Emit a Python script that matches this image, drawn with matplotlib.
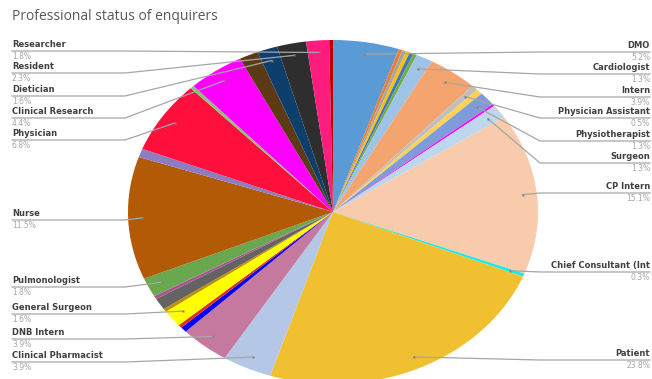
import matplotlib.pyplot as plt
import numpy as np

# slices clockwise from 12 o'clock; "" = slice without a visible label
labels = ["DMO", "", "", "", "", "", "Cardiologist", "Intern", "Physician Assistant", "",
          "Physiotherapist", "", "Surgeon", "CP Intern", "Chief Consultant (Int", "Patient",
          "Clinical Pharmacist", "DNB Intern", "", "", "General Surgeon", "", "", "",
          "Pulmonologist", "Nurse", "", "Physician", "", "Clinical Research", "",
          "Dietician", "Resident", "Researcher", ""]
shares = [5.2, 0.3, 0.3, 0.3, 0.3, 0.3, 1.3, 3.9, 0.5, 0.5,
          1.3, 0.2, 1.3, 15.1, 0.3, 23.8,
          3.9, 3.9, 0.5, 0.3, 1.6, 0.3, 1.1, 0.3,
          1.8, 11.5, 0.8, 6.8, 0.3, 4.4, 1.5,
          1.6, 2.3, 1.8, 0.3]
colors = ["#5B9BD5", "#ED7D31", "#A5A5A5", "#FFC000", "#4472C4", "#70AD47", "#9DC3E6", "#F4A46F",
          "#BFBFBF", "#FFD34F", "#7F9BDB", "#FF00FF", "#BDD7EE", "#F8CBAD", "#1CEAEA", "#F0C030",
          "#B4C7E7", "#C5799E", "#0000FF", "#E03010", "#FFFF00", "#C09000", "#636363", "#A9538F",
          "#6AA84F", "#B35A07", "#8E7CC3", "#FF0F3C", "#8BC37A", "#FF00FF", "#5C3A16",
          "#0E3F6C", "#2E2E2E", "#FF1C7F", "#C00000"]

# label layout (pixel y of the leader line, side)
label_pos = {
    "DMO": (52, "R"), "Cardiologist": (74, "R"), "Intern": (97, "R"),
    "Physician Assistant": (118, "R"), "Physiotherapist": (141, "R"), "Surgeon": (163, "R"),
    "CP Intern": (193, "R"), "Chief Consultant (Int": (272, "R"), "Patient": (360, "R"),
    "Researcher": (51, "L"), "Resident": (73, "L"), "Dietician": (96, "L"),
    "Clinical Research": (118, "L"), "Physician": (140, "L"), "Nurse": (220, "L"),
    "Pulmonologist": (287, "L"), "General Surgeon": (314, "L"), "DNB Intern": (339, "L"),
    "Clinical Pharmacist": (362, "L"),
}

W, H = 652, 379
fig = plt.figure(figsize=(W / 100, H / 100), dpi=100)

# pie axes: ellipse centred at (333, 212) px, radii 205 x 172
cx, cy, rx, ry = 333, 212, 205, 172
ax = fig.add_axes([(cx - rx) / W, 1 - (cy + ry) / H, 2 * rx / W, 2 * ry / H])
wedges, _ = ax.pie(shares, colors=colors, startangle=90, counterclock=False, radius=1,
                   wedgeprops=dict(linewidth=0))
ax.set_aspect("auto")
ax.set_xlim(-1, 1)
ax.set_ylim(-1, 1)
ax.axis("off")
for w in wedges:
    w.set_clip_on(False)

# overlay in pixel coordinates for labels and leaders
ov = fig.add_axes([0, 0, 1, 1], zorder=5)
ov.set_xlim(0, W)
ov.set_ylim(H, 0)
ov.axis("off")

ov.text(12, 17, "Professional status of enquirers", fontsize=10, color="#595959",
        va="center", ha="left", family="Open Sans")

to_px = ax.transData + ov.transData.inverted()
line_c = "#A6A6A6"
for w, name, val in zip(wedges, labels, shares):
    if not name:
        continue
    th = np.deg2rad((w.theta1 + w.theta2) / 2)
    dx, dy = to_px.transform((0.93 * np.cos(th), 0.93 * np.sin(th)))
    ly, side = label_pos[name]
    if side == "R":
        ex = max(540, dx)
        ov.plot([dx, ex, 650], [dy, ly, ly], color=line_c, lw=0.9)
        tx, ha = 650, "right"
    else:
        ex = min(125, dx)
        ov.plot([dx, ex, 12], [dy, ly, ly], color=line_c, lw=0.9)
        tx, ha = 12, "left"
    ov.plot(dx, dy, "s", ms=1.8, color="#808080", mec="none")
    ov.text(tx, ly - 2, name, fontsize=6, fontweight="bold", color="#404040",
            ha=ha, va="bottom")
    ov.text(tx, ly + 1, f"{val}%", fontsize=5.5, color="#A6A6A6", ha=ha, va="top")

fig.savefig("out.png", dpi=100)
